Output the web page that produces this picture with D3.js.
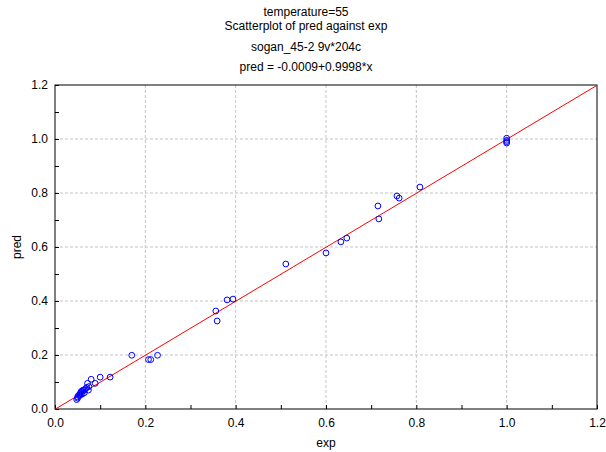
<!DOCTYPE html>
<html>
<head>
<meta charset="utf-8">
<script src="https://cdn.jsdelivr.net/npm/d3@7"></script>
<style>
  body { margin: 0; background: #fff; }
  text { font-family: "Liberation Sans", Arial, sans-serif; }
</style>
</head>
<body>
<div id="chart"></div>
<script>
// observed values (exp) and predicted values (pred)
var expVals = [1.0, 1.0, 1.0, 1.0, 0.808, 0.757, 0.762, 0.715, 0.717, 0.646, 0.633, 0.600, 0.511,
  0.394, 0.381, 0.356, 0.359, 0.227, 0.207, 0.212, 0.170, 0.122, 0.100, 0.080, 0.072, 0.089,
  0.075, 0.074, 0.048, 0.050, 0.052, 0.055, 0.057, 0.060, 0.062, 0.065, 0.068, 0.070, 0.055,
  0.060, 0.065, 0.050, 0.058];
var predVals = [1.003, 0.995, 0.99, 0.985, 0.822, 0.789, 0.781, 0.752, 0.704, 0.633, 0.619, 0.578, 0.537,
  0.407, 0.404, 0.363, 0.326, 0.199, 0.183, 0.183, 0.199, 0.118, 0.118, 0.110, 0.095, 0.095,
  0.083, 0.070, 0.035, 0.045, 0.050, 0.055, 0.060, 0.065, 0.070, 0.070, 0.075, 0.080, 0.050,
  0.055, 0.060, 0.040, 0.065];
var fitA = -0.0009, fitB = 0.9998;
var titleLines = ["temperature=55", "Scatterplot of pred against exp", "sogan_45-2 9v*204c", "pred = -0.0009+0.9998*x"];
var majorTicks = [0, 0.2, 0.4, 0.6, 0.8, 1.0, 1.2];
var minorTicks = d3.range(0, 13).map(function (i) { return i / 10; });

function main() {
    var W = 606, H = 452;
    var left = 55, right = 597, top = 85, bottom = 409;

    var svg = d3.select("#chart").append("svg")
        .attr("width", W).attr("height", H);

    var x = d3.scaleLinear().domain([0, 1.2]).range([left, right]);
    var y = d3.scaleLinear().domain([0, 1.2]).range([bottom, top]);

    // grid
    var inner = majorTicks.slice(1, -1);
    svg.selectAll(".gx").data(inner).enter().append("line")
        .attr("x1", function (d) { return x(d); }).attr("x2", function (d) { return x(d); })
        .attr("y1", top).attr("y2", bottom)
        .attr("stroke", "#c4c4c4").attr("stroke-dasharray", "3,2");
    svg.selectAll(".gy").data(inner).enter().append("line")
        .attr("y1", function (d) { return y(d); }).attr("y2", function (d) { return y(d); })
        .attr("x1", left).attr("x2", right)
        .attr("stroke", "#c4c4c4").attr("stroke-dasharray", "3,2");

    // axes with inward ticks
    var fmt = d3.format(".1f");
    svg.append("g").attr("transform", "translate(0," + bottom + ")")
        .call(d3.axisBottom(x).tickValues(minorTicks).tickSize(-4).tickPadding(9)
            .tickFormat(function (d) { return majorTicks.indexOf(d) >= 0 ? fmt(d) : ""; }))
        .call(function (g) { g.select(".domain").remove(); });
    svg.append("g").attr("transform", "translate(" + left + ",0)")
        .call(d3.axisLeft(y).tickValues(minorTicks).tickSize(-4).tickPadding(7)
            .tickFormat(function (d) { return majorTicks.indexOf(d) >= 0 ? fmt(d) : ""; }))
        .call(function (g) { g.select(".domain").remove(); });
    svg.selectAll(".tick text").attr("font-size", "12px").attr("fill", "#000")
        .style("font-family", "Liberation Sans, Arial, sans-serif");

    // frame
    svg.append("rect").attr("x", left).attr("y", top)
        .attr("width", right - left).attr("height", bottom - top)
        .attr("fill", "none").attr("stroke", "#000");

    // fit line
    svg.append("line")
        .attr("x1", x(0)).attr("y1", y(fitA))
        .attr("x2", x(1.2)).attr("y2", y(fitA + fitB * 1.2))
        .attr("stroke", "#ff0000").attr("stroke-width", 1);

    // points
    svg.selectAll(".pt").data(expVals).enter().append("circle")
        .attr("cx", function (d) { return x(d); })
        .attr("cy", function (d, i) { return y(predVals[i]); })
        .attr("r", 2.9)
        .attr("fill", "none").attr("stroke", "#0000ff").attr("stroke-width", 1);

    // titles
    var ty = [16, 30, 51, 71];
    svg.selectAll(".title").data(titleLines).enter().append("text")
        .attr("x", 306).attr("y", function (d, i) { return ty[i]; })
        .attr("text-anchor", "middle").attr("font-size", "12px")
        .text(function (d) { return d; });

    // axis labels
    svg.append("text").attr("x", x(0.6)).attr("y", 447)
        .attr("text-anchor", "middle").attr("font-size", "12px").text("exp");
    svg.append("text").attr("transform", "translate(21," + y(0.6) + ") rotate(-90)")
        .attr("text-anchor", "middle").attr("font-size", "12px").text("pred");
}
window.addEventListener('load', main);
</script>
</body>
</html>
